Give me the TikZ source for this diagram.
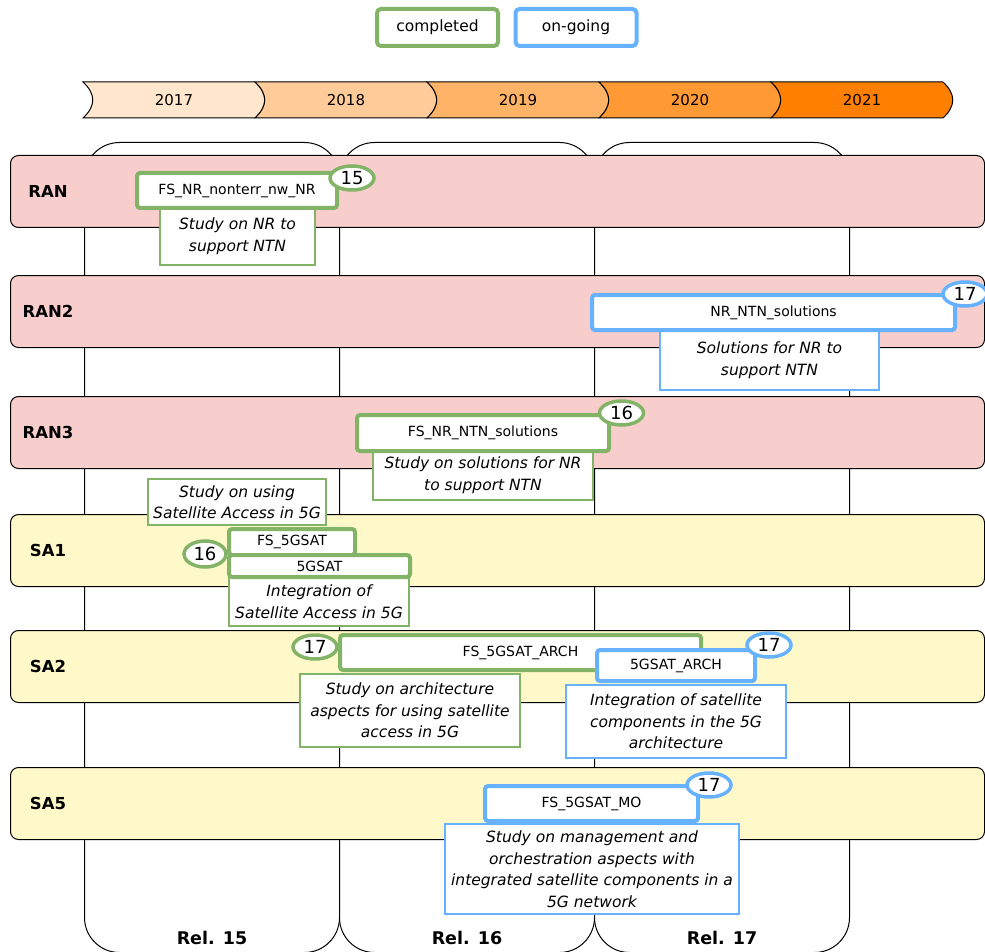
\documentclass[tikz,border=0pt]{standalone}
\usepackage{fontspec}
\setmainfont{DejaVu Sans}
\usetikzlibrary{shapes.geometric}
\usetikzlibrary{positioning}
\definecolor{done}{HTML}{82B366}
\definecolor{ongoing}{HTML}{66B2FF}
\definecolor{ranpink}{HTML}{F8CECC}
\definecolor{sayellow}{HTML}{FFF9C9}
\definecolor{yr2017}{HTML}{FFE6CC}
\definecolor{yr2018}{HTML}{FFCC99}
\definecolor{yr2019}{HTML}{FFB366}
\definecolor{yr2020}{HTML}{FF9933}
\definecolor{yr2021}{HTML}{FF8000}

\begin{document}
\begin{tikzpicture}
[x=1pt, y=-1pt,
every node/.style = {align=center, inner sep=0pt}]
\tikzstyle{relcol} = [rectangle, draw=black, line width=1pt, fill=white, rounded corners=35pt, minimum width=255pt, minimum height=810pt, anchor=north west]
\tikzstyle{lane} = [rectangle, draw=black, line width=1pt, rounded corners=8pt, minimum width=974pt, minimum height=72pt, anchor=north west]
\tikzstyle{lanelbl} = [font=\bfseries\fontsize{16.5}{19}\selectfont]
\tikzstyle{rellbl} = [font=\bfseries\fontsize{17.5}{20}\selectfont]
\tikzstyle{legend} = [rectangle, line width=4pt, rounded corners=4pt, fill=white, minimum width=121pt, minimum height=37pt, font=\fontsize{15.5}{18}\selectfont]
\tikzstyle{wi} = [rectangle, line width=4pt, rounded corners=3pt, fill=white, font=\fontsize{14}{16}\selectfont]
\tikzstyle{desc} = [rectangle, line width=1.2pt, fill=white, font=\itshape\fontsize{15.5}{21.5}\selectfont]
\tikzstyle{rel} = [ellipse, line width=3.5pt, fill=white, minimum width=44pt, minimum height=24pt, font=\fontsize{18}{20}\selectfont]

\useasboundingbox (0,0) rectangle (985,952);

% legend
\node[legend, draw=done] (lgdone) at (437.5,27.5) {completed};
\node[legend, draw=ongoing] (lgon) at (576,27.5) {on-going};

% years
\foreach \yr [count=\i from 0] in {2017,...,2021} {
  \pgfmathsetmacro\xa{83+172*\i}
  \draw[fill=yr\yr, line width=1pt] (\xa,82) -- (\xa+172,82) .. controls (\xa+185,94) and (\xa+185,106) .. (\xa+172,118)
    -- (\xa,118) .. controls (\xa+13,106) and (\xa+13,94) .. (\xa,82) -- cycle;
  \node[font=\fontsize{15}{18}\selectfont] (y\yr) at (\xa+91,100) {\yr};
}

% releases
\node[relcol] (col15) at (84,142) {};
\node[relcol] (col16) at (339,142) {};
\node[relcol] (col17) at (594,142) {};
\foreach \r in {15,16,17}
  \node[rellbl, above=8pt of col\r.south] (rel\r) {Rel. \r};

% working groups
\node[lane, fill=ranpink] (ran) at (10,155) {};
\node[lane, fill=ranpink] (ran2) at (10,275) {};
\node[lane, fill=ranpink] (ran3) at (10,396) {};
\node[lane, fill=sayellow] (sa1) at (10,514) {};
\node[lane, fill=sayellow] (sa2) at (10,630) {};
\node[lane, fill=sayellow] (sa5) at (10,767) {};
\foreach \l/\t in {ran/RAN,ran2/RAN2,ran3/RAN3,sa1/SA1,sa2/SA2,sa5/SA5}
  \node[lanelbl] (\l-lbl) at ([xshift=38pt]\l.west) {\t};

% RAN
\node[desc, draw=done, minimum width=155pt, minimum height=58pt] (dNonterr) at (237.5,236) {Study on NR to\\support NTN};
\node[wi, draw=done, minimum width=200pt, minimum height=35pt] (wiNonterr) at (237,190.5) {FS\_NR\_nonterr\_nw\_NR};
\node[rel, draw=done] (rNonterr) at (352,178) {15};

% RAN2
\node[desc, draw=ongoing, minimum width=219pt, minimum height=60pt] (dNtnSol) at (769.5,360) {Solutions for NR to\\support NTN};
\node[wi, draw=ongoing, minimum width=363pt, minimum height=35pt] (wiNtnSol) at (773.5,312.5) {NR\_NTN\_solutions};
\node[rel, draw=ongoing] (rNtnSol) at (965,294) {17};

% RAN3
\node[desc, draw=done, minimum width=220pt, minimum height=50pt] (dFsNtnSol) at (483,475) {Study on solutions for NR\\to support NTN};
\node[wi, draw=done, minimum width=252pt, minimum height=36pt] (wiFsNtnSol) at (483,433) {FS\_NR\_NTN\_solutions};
\node[rel, draw=done] (rFsNtnSol) at (621.5,413) {16};

% SA1
\node[desc, draw=done, minimum width=178pt, minimum height=46pt] (dFs5gsat) at (237,502) {Study on using\\Satellite Access in 5G};
\node[desc, draw=done, minimum width=180pt, minimum height=49pt] (d5gsat) at (319,601.5) {Integration of\\Satellite Access in 5G};
\node[wi, draw=done, minimum width=126pt, minimum height=26pt] (wiFs5gsat) at (292,542) {FS\_5GSAT};
\node[wi, draw=done, minimum width=181pt, minimum height=22pt] (wi5gsat) at (319.5,566) {5GSAT};
\node[rel, draw=done, minimum width=42pt, minimum height=26pt] (r5gsat) at (205,554) {16};

% SA2
\node[wi, draw=done, minimum width=361pt, minimum height=35pt] (wiFsArch) at (520.5,652.5) {FS\_5GSAT\_ARCH};
\node[desc, draw=done, minimum width=220pt, minimum height=73pt] (dFsArch) at (410,710.5) {Study on architecture\\aspects for using satellite\\access in 5G};
\node[rel, draw=done] (rFsArch) at (315,647) {17};
\node[desc, draw=ongoing, minimum width=220pt, minimum height=73pt] (dArch) at (676,721.5) {Integration of satellite\\components in the 5G\\architecture};
\node[wi, draw=ongoing, minimum width=158pt, minimum height=31pt] (wiArch) at (676,665.5) {5GSAT\_ARCH};
\node[rel, draw=ongoing] (rArch) at (769,645) {17};

% SA5
\node[desc, draw=ongoing, minimum width=294pt, minimum height=90pt] (dMo) at (592,869) {Study on management and\\orchestration aspects with\\integrated satellite components in a\\5G network};
\node[wi, draw=ongoing, minimum width=213pt, minimum height=35pt] (wiMo) at (591.5,803.5) {FS\_5GSAT\_MO};
\node[rel, draw=ongoing] (rMo) at (709,785) {17};

\end{tikzpicture}
\end{document}
